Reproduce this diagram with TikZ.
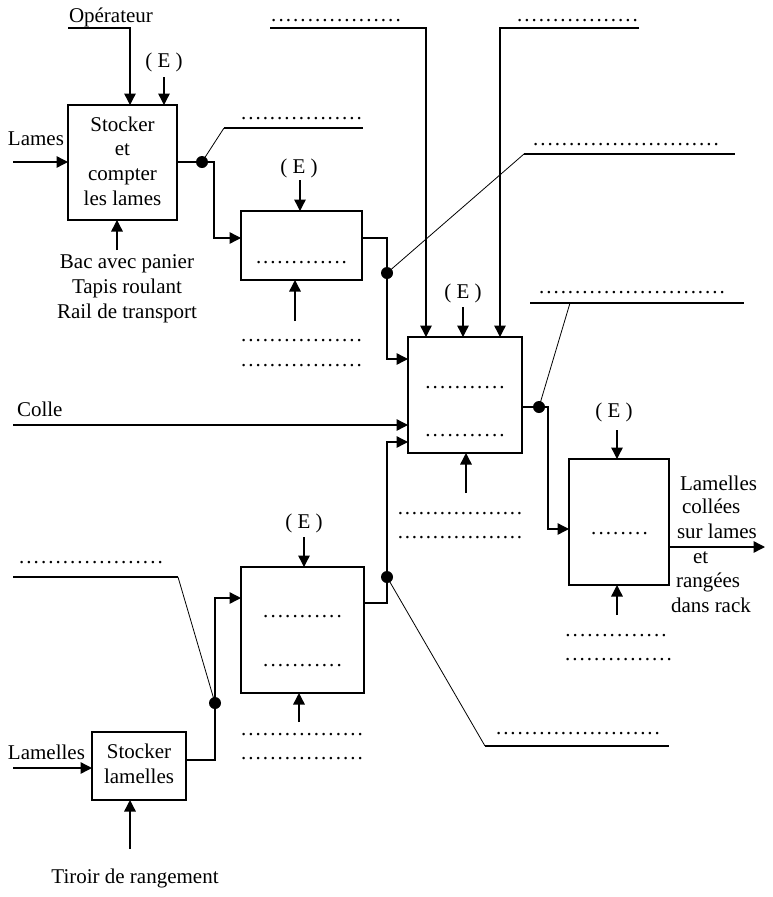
\documentclass[tikz,border=0pt]{standalone}
\usepackage{fontspec}
\setmainfont{Liberation Serif}
\usetikzlibrary{arrows.meta}
\newcommand{\dotrow}[1]{\hbox to #1{\xleaders\hbox to 7pt{\hss.\hss}\hfill}}
\begin{document}
\begin{tikzpicture}[x=1pt,y=-1pt,
  every node/.style={inner sep=0pt,outer sep=0pt,font=\fontsize{21}{24.5}\selectfont},
  box/.style={draw,line width=1.4pt},
  conn/.style={line width=1.4pt},
  arr/.style={conn,-{Triangle[length=11.5pt,width=11.5pt]}},
  thin/.style={line width=0.8pt},
  jdot/.style={circle,fill,minimum size=12pt},
  lab/.style={anchor=base},
  labw/.style={anchor=base west},
  dots/.style={anchor=base west}]
\useasboundingbox (0,0) rectangle (772,897);

% ---------- boxes ----------
\node[box,minimum width=109pt,minimum height=115pt] (b1) at (122.5,162.5) {};
\node[box,minimum width=121pt,minimum height=69pt] (b2) at (301.5,245.5) {};
\node[box,minimum width=114pt,minimum height=116pt] (b3) at (465,395) {};
\node[box,minimum width=100pt,minimum height=126pt] (b4) at (619,522) {};
\node[box,minimum width=123pt,minimum height=126pt] (b5) at (302.5,630) {};
\node[box,minimum width=94pt,minimum height=68pt] (b6) at (139,766) {};

% ---------- box texts ----------
\node[lab] (b1t1) at (122.5,131) {Stocker};
\node[lab] (b1t2) at (122.5,155) {et};
\node[lab] (b1t3) at (122.5,180) {compter};
\node[lab] (b1t4) at (122.5,205) {les lames};
\node[dots] (b2d) at (255,263) {\dotrow{93pt}};
\node[dots] (b3d1) at (424,388) {\dotrow{82pt}};
\node[dots] (b3d2) at (424,436) {\dotrow{82pt}};
\node[dots] (b4d) at (590,534) {\dotrow{59pt}};
\node[dots] (b5d1) at (262,617) {\dotrow{81pt}};
\node[dots] (b5d2) at (262,666) {\dotrow{81pt}};
\node[lab] (b6t1) at (139,758) {Stocker};
\node[lab] (b6t2) at (139,783) {lamelles};

% ---------- box 1 ----------
\node[labw] (op) at (69,22) {Opérateur};
\coordinate (opL) at (68,28); \coordinate (opT) at (130,28);
\draw[arr] (opL) -- (opT) -- (opT |- b1.north);
\node[lab] (e1) at (164,67) {( E )};
\coordinate (e1s) at (164,77);
\draw[arr] (e1s) -- (e1s |- b1.north);
\node[labw] (lames) at (8,145) {Lames};
\coordinate (lamesIn) at (13,162);
\draw[arr] (lamesIn) -- (lamesIn -| b1.west);
\coordinate (m1) at (117,250);
\draw[arr] (m1) -- (m1 |- b1.south);
\node[lab] (mech1a) at (127,268) {Bac avec panier};
\node[lab] (mech1b) at (127,293) {Tapis roulant};
\node[lab] (mech1c) at (127,318) {Rail de transport};
\node[jdot] (j1) at (202,162) {};
\coordinate (c1) at (214,238);
\draw[arr] (b1.east |- j1.center) -- (j1.center) -| (c1) -- (c1 -| b2.west);
\coordinate (d1a) at (224,128); \coordinate (d1b) at (363,128);
\draw[thin] (j1.center) -- (d1a);
\draw[conn] (d1a) -- (d1b);
\node[dots] (dt1) at (240,119) {\dotrow{123pt}};

% ---------- box 2 ----------
\node[lab] (e2) at (299,173) {( E )};
\coordinate (e2s) at (300,180);
\draw[arr] (e2s) -- (e2s |- b2.north);
\coordinate (m2) at (295,321);
\draw[arr] (m2) -- (m2 |- b2.south);
\node[dots] (m2d1) at (240,341) {\dotrow{123pt}};
\node[dots] (m2d2) at (240,366) {\dotrow{123pt}};
\coordinate (r2) at (387,238); \coordinate (r2b) at (387,359);
\node[jdot] (j2) at (387,273) {};
\draw[arr] (b2.east |- r2) -- (r2) -- (r2b) -- (r2b -| b3.west);
\coordinate (d2a) at (524,154); \coordinate (d2b) at (735,154);
\draw[thin] (j2.center) -- (d2a);
\draw[conn] (d2a) -- (d2b);
\node[dots] (dt2) at (532,145) {\dotrow{188pt}};

% ---------- box 3 ----------
\coordinate (t1a) at (270,28); \coordinate (t1b) at (426,28);
\draw[arr] (t1a) -- (t1b) -- (t1b |- b3.north);
\node[dots] (dt3) at (270,21) {\dotrow{132pt}};
\coordinate (t2a) at (639,28); \coordinate (t2b) at (500,28);
\draw[arr] (t2a) -- (t2b) -- (t2b |- b3.north);
\node[dots] (dt4) at (516,21) {\dotrow{123pt}};
\node[lab] (e3) at (463,298) {( E )};
\coordinate (e3s) at (463,307);
\draw[arr] (e3s) -- (e3s |- b3.north);
\node[labw] (colle) at (17,416) {Colle};
\coordinate (colleIn) at (13,425);
\draw[arr] (colleIn) -- (colleIn -| b3.west);
\coordinate (m3) at (466,493);
\draw[arr] (m3) -- (m3 |- b3.south);
\node[dots] (m3d1) at (397,514) {\dotrow{126pt}};
\node[dots] (m3d2) at (397,538) {\dotrow{126pt}};
\node[jdot] (j3) at (539,407) {};
\coordinate (c3) at (548,529);
\draw[arr] (b3.east |- j3.center) -- (j3.center) -| (c3) -- (c3 -| b4.west);
\coordinate (d3a) at (570,303); \coordinate (d3L) at (530,303); \coordinate (d3R) at (744,303);
\draw[thin] (j3.center) -- (d3a);
\draw[conn] (d3L) -- (d3R);
\node[dots] (dt5) at (538,293) {\dotrow{188pt}};

% ---------- box 4 ----------
\node[lab] (e4) at (614,417) {( E )};
\coordinate (e4s) at (617,430);
\draw[arr] (e4s) -- (e4s |- b4.north);
\coordinate (o4) at (765,547);
\draw[arr] (b4.east |- o4) -- (o4);
\node[labw] (out1) at (680,490) {Lamelles};
\node[labw] (out2) at (682,513) {collées};
\node[labw] (out3) at (677,538) {sur lames};
\node[labw] (out4) at (693,563) {et};
\node[labw] (out5) at (676,587) {rangées};
\node[labw] (out6) at (671,612) {dans rack};
\coordinate (m4) at (617,615);
\draw[arr] (m4) -- (m4 |- b4.south);
\node[dots] (m4d1) at (564,636) {\dotrow{104pt}};
\node[dots] (m4d2) at (564,660) {\dotrow{109pt}};

% ---------- box 5 ----------
\node[lab] (e5) at (304,528) {( E )};
\coordinate (e5s) at (304,537);
\draw[arr] (e5s) -- (e5s |- b5.north);
\coordinate (m5) at (299,722);
\draw[arr] (m5) -- (m5 |- b5.south);
\node[dots] (m5d1) at (240,735) {\dotrow{124pt}};
\node[dots] (m5d2) at (240,759) {\dotrow{124pt}};
\coordinate (r5) at (387,603); \coordinate (r5b) at (387,442);
\node[jdot] (j5) at (387,577) {};
\draw[arr] (b5.east |- r5) -- (r5) -- (r5b) -- (r5b -| b3.west);
\coordinate (d5a) at (485,746); \coordinate (d5b) at (669,746);
\draw[thin] (j5.center) -- (d5a);
\draw[conn] (d5a) -- (d5b);
\node[dots] (dt6) at (495,734) {\dotrow{166pt}};

% ---------- box 6 ----------
\coordinate (l1) at (13,577); \coordinate (l2) at (178,577);
\node[jdot] (j6) at (215,703) {};
\draw[conn] (l1) -- (l2);
\draw[thin] (l2) -- (j6.center);
\node[dots] (dt7) at (18,563) {\dotrow{146pt}};
\coordinate (r6) at (215,760); \coordinate (r6b) at (215,598);
\draw[arr] (b6.east |- r6) -- (r6) -- (r6b) -- (r6b -| b5.west);
\node[labw] (lamelles) at (8,759) {Lamelles};
\coordinate (lamIn) at (13,768);
\draw[arr] (lamIn) -- (lamIn -| b6.west);
\coordinate (m6) at (130,849);
\draw[arr] (m6) -- (m6 |- b6.south);
\node[lab] (tiroir) at (135,883) {Tiroir de rangement};
\end{tikzpicture}
\end{document}
